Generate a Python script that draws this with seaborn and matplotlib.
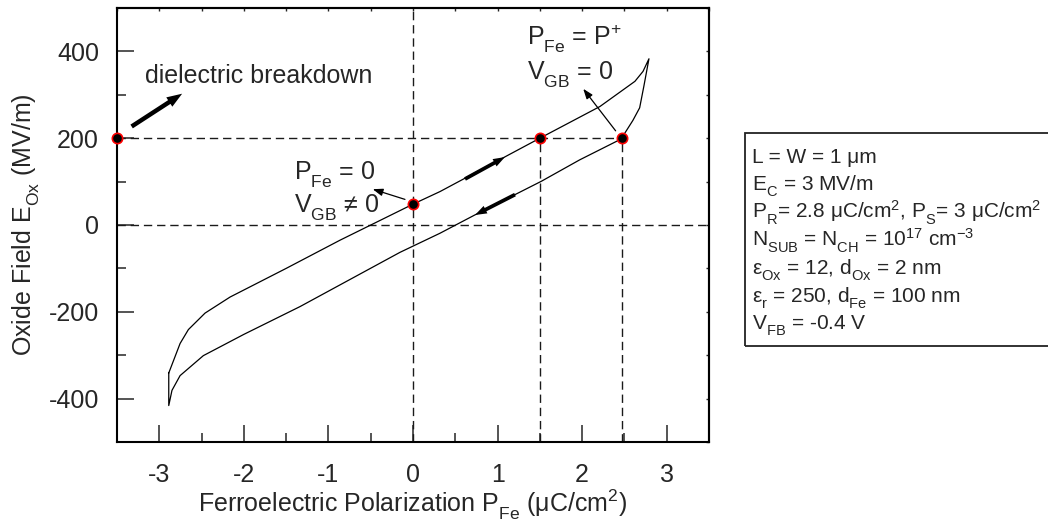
import numpy as np
import pandas as pd
import matplotlib
matplotlib.use("Agg")
import matplotlib.pyplot as plt
from matplotlib.patches import FancyArrowPatch, Rectangle
import seaborn as sns

# ---- data -------------------------------------------------------------
# upper branch of the P-E loop (polarization rising)
p_up = [-2.888, -2.754, -2.656, -2.459, -2.163, -1.5, -0.863, 0.0, 0.319,
        1.5, 2.21, 2.624, 2.72, 2.79]
e_up = [-341, -273, -241, -203, -166, -100, -35, 48, 77,
        200, 273, 331, 354, 383]
# lower branch (polarization falling), from the positive tip back down
p_dn = [2.79, 2.73, 2.68, 2.60, 2.46, 1.97, 1.52, 0.72, 0.319, -0.154,
        -1.336, -2.0, -2.479, -2.754, -2.85, -2.888]
e_dn = [383, 320, 270, 241, 198, 150, 101, 22, -19, -63,
        -188, -252, -301, -347, -381, -416]

# marked operating points
pt_p = [-3.5, 0.0, 1.5, 2.47]
pt_e = [200, 48, 200, 200]

x_ticks = [-3, -2, -1, 0, 1, 2, 3]
y_ticks = [-400, -200, 0, 200, 400]

params = [
    "L = W = 1 \u03bcm",
    "E$_{\\mathrm{C}}$ = 3 MV/m",
    "P$_{\\mathrm{R}}$= 2.8 \u03bcC/cm$^{2}$, P$_{\\mathrm{S}}$= 3 \u03bcC/cm$^{2}$",
    "N$_{\\mathrm{SUB}}$ = N$_{\\mathrm{CH}}$ = 10$^{17}$ cm$^{-3}$",
    "\u03b5$_{\\mathrm{Ox}}$ = 12, d$_{\\mathrm{Ox}}$ = 2 nm",
    "\u03b5$_{\\mathrm{r}}$ = 250, d$_{\\mathrm{Fe}}$ = 100 nm",
    "V$_{\\mathrm{FB}}$ = -0.4 V",
]

# ---- style ------------------------------------------------------------
sns.set_style("ticks")
plt.rcParams["font.family"] = ["Liberation Sans", "DejaVu Sans"]
plt.rcParams["mathtext.fontset"] = "custom"
plt.rcParams["mathtext.rm"] = "Liberation Sans"
plt.rcParams["mathtext.it"] = "Liberation Sans:italic"
plt.rcParams["mathtext.bf"] = "Liberation Sans:bold"
plt.rcParams["axes.unicode_minus"] = False
# drop subscripts a little lower than the mathtext default
try:
    import matplotlib._mathtext as _mt
    _mt.FontConstantsBase.sub1 = 0.6
except Exception:
    pass

FS = 18
W, H = 1048, 522
fig = plt.figure(figsize=(W / 100, H / 100), dpi=100)
ax = fig.add_axes([117 / W, (H - 442) / H, (709 - 117) / W, (442 - 8) / H])

# ---- guide lines ------------------------------------------------------
dash = dict(color="#1a1a1a", lw=1.0, linestyle=(0, (6, 3.5)), zorder=1)
ax.axhline(0, **dash)
ax.axvline(0, **dash)
ax.plot([pt_p[0], pt_p[3]], [pt_e[0], pt_e[3]], **dash)
ax.plot([pt_p[2], pt_p[2]], [-500, pt_e[2]], **dash)
ax.plot([pt_p[3], pt_p[3]], [-500, pt_e[3]], **dash)

# ---- hysteresis loop --------------------------------------------------
loop = pd.DataFrame({
    "P": p_up + p_dn + [p_up[0]],
    "E": e_up + e_dn + [e_up[0]],
})
sns.lineplot(data=loop, x="P", y="E", sort=False, estimator=None,
             color="black", lw=0.9, ax=ax, zorder=3)

sns.scatterplot(x=pt_p, y=pt_e, s=55, color="black", edgecolor="red",
                linewidth=1.2, ax=ax, zorder=6, clip_on=False)

# ---- arrows -----------------------------------------------------------
def thick(p0, p1, hl, hw, tw, ms=10):
    ax.add_patch(FancyArrowPatch(
        p0, p1, arrowstyle=f"simple,head_length={hl},head_width={hw},tail_width={tw}",
        mutation_scale=ms, color="black", lw=0, shrinkA=0, shrinkB=0, zorder=5))

thick((-3.327, 227), (-2.73, 302.5), 1.1, 0.8, 0.32)
thick((0.615, 106), (1.087, 156.5), 0.85, 0.6, 0.27)
thick((1.206, 70), (0.733, 23), 0.85, 0.6, 0.27)

def thin(p0, p1):
    ax.add_patch(FancyArrowPatch(
        p0, p1, arrowstyle="-|>,head_length=0.6,head_width=0.22",
        mutation_scale=10, color="black", lw=0.9, shrinkA=0, shrinkB=0, zorder=5))

thin((-0.095, 59), (-0.476, 82.5))
thin((2.396, 217), (2.013, 313.8))

# ---- annotations ------------------------------------------------------
ax.text(-3.168, 328, "dielectric breakdown", fontsize=FS, va="baseline")
ax.text(-1.407, 104, "P$_{\\mathrm{Fe}}$ = 0", fontsize=FS, va="baseline")
ax.text(-1.407, 27.7, "V$_{\\mathrm{GB}}$ \u2260 0", fontsize=FS, va="baseline")
ax.text(1.348, 416, "P$_{\\mathrm{Fe}}$ = P$^{+}$", fontsize=FS, va="baseline")
ax.text(1.348, 335, "V$_{\\mathrm{GB}}$ = 0", fontsize=FS, va="baseline")

# ---- axes -------------------------------------------------------------
ax.set_xlim(-3.5, 3.5)
ax.set_ylim(-500, 500)
ax.set_xticks(x_ticks)
ax.set_yticks(y_ticks)
ax.set_xticks(np.arange(-3.5, 3.6, 0.5), minor=True)
ax.set_yticks(np.arange(-500, 501, 100), minor=True)
ax.set_xticklabels([str(v) for v in x_ticks])
ax.set_yticklabels([str(v) for v in y_ticks])
ax.tick_params(which="major", direction="in", length=12.2, width=1.1,
               labelsize=FS, top=False, right=False)
ax.tick_params(axis="x", which="major", pad=15)
ax.tick_params(axis="y", which="major", pad=13)
ax.tick_params(which="minor", direction="in", length=6.5, width=1.1,
               top=False, right=False)
for s in ax.spines.values():
    s.set_linewidth(1.5)
    s.set_color("black")

sec_x = ax.secondary_xaxis("top")
sec_x.set_xticks(np.arange(-3.5, 3.6, 0.5))
sec_x.tick_params(direction="in", length=2.5, width=1.0, labeltop=False)
sec_x.spines["top"].set_linewidth(1.5)
sec_y = ax.secondary_yaxis("right")
sec_y.set_yticks(np.arange(-500, 501, 100))
sec_y.tick_params(direction="in", length=2.5, width=1.0, labelright=False)
sec_y.spines["right"].set_linewidth(1.5)

ax.set_xlabel("Ferroelectric Polarization P$_{\\mathrm{Fe}}$ (\u03bcC/cm$^{2}$)",
              fontsize=FS, va="baseline")
ax.xaxis.set_label_coords(0.5, (442 - 512) / 434)
ax.set_ylabel("Oxide Field E$_{\\mathrm{Ox}}$ (MV/m)", fontsize=FS, va="baseline")
ax.yaxis.set_label_coords((32 - 117) / 592, 0.5)

# ---- parameter box ----------------------------------------------------
box_top, box_bot = 133, 346
fig.patches.append(Rectangle((745 / W, (H - box_bot) / H), 320 / W,
                             (box_bot - box_top) / H, transform=fig.transFigure,
                             fill=False, edgecolor="#222222", lw=1.3))
row0, dy = 163, 27.8
for i, line in enumerate(params):
    fig.text(752 / W, (H - (row0 + i * dy)) / H, line, fontsize=15,
             va="baseline", ha="left")

fig.savefig("out.png", dpi=100)
